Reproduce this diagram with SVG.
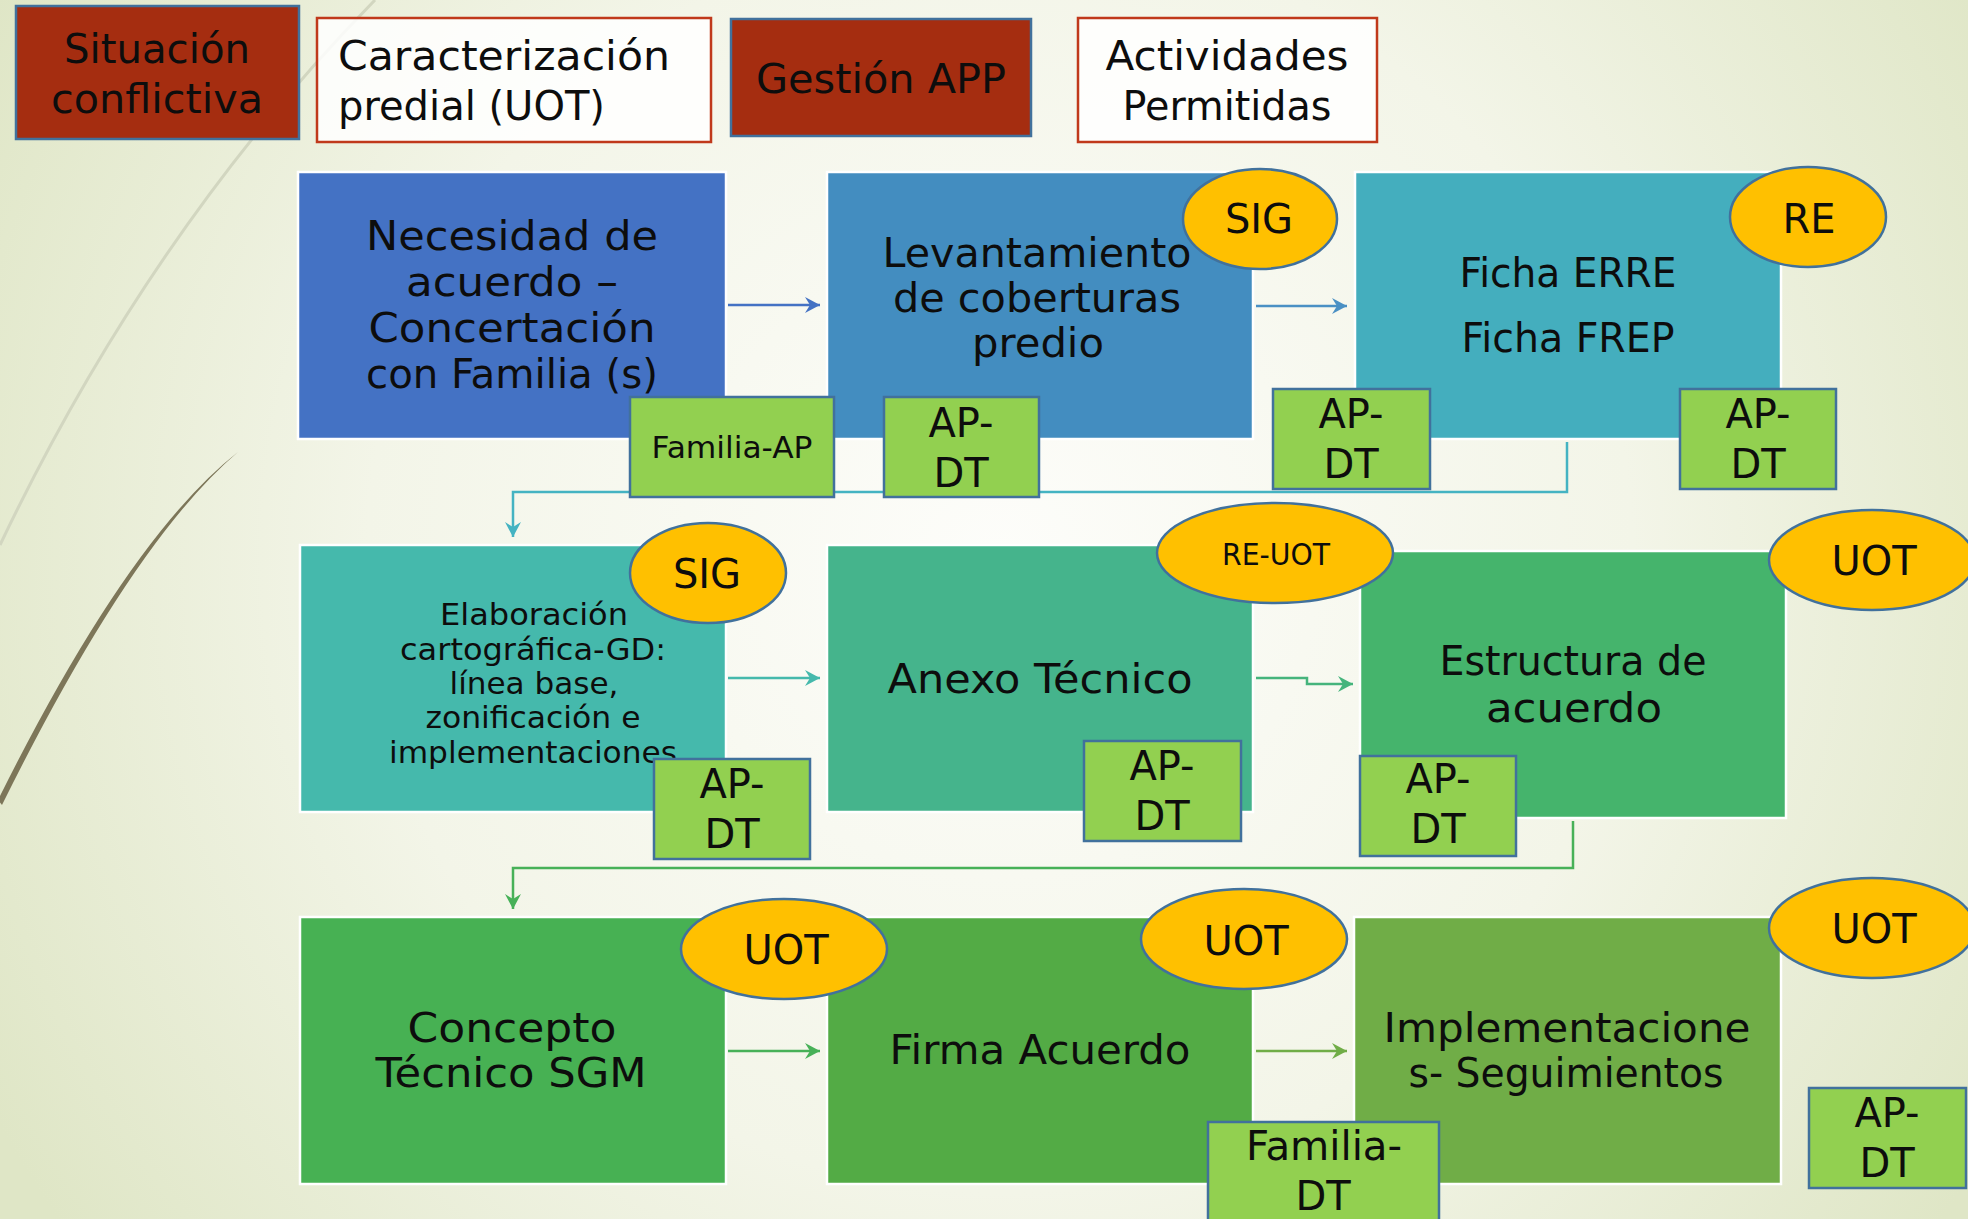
<svg xmlns="http://www.w3.org/2000/svg" width="1968" height="1219" viewBox="0 0 1968 1219">
<defs>
<radialGradient id="bg" cx="1000" cy="560" r="1150" gradientUnits="userSpaceOnUse">
<stop offset="0" stop-color="#FDFDFA"/>
<stop offset="0.55" stop-color="#F3F5E8"/>
<stop offset="1" stop-color="#DFE6C6"/>
</radialGradient>
<marker id="ah-blue" markerUnits="userSpaceOnUse" markerWidth="16" markerHeight="16" refX="15" refY="8" orient="auto"><path d="M0,0 L15,8 L0,16 L5,8 Z" fill="#4472C4"/></marker>
<marker id="ah-blue2" markerUnits="userSpaceOnUse" markerWidth="16" markerHeight="16" refX="15" refY="8" orient="auto"><path d="M0,0 L15,8 L0,16 L5,8 Z" fill="#4A90C4"/></marker>
<marker id="ah-teal" markerUnits="userSpaceOnUse" markerWidth="16" markerHeight="16" refX="15" refY="8" orient="auto"><path d="M0,0 L15,8 L0,16 L5,8 Z" fill="#44B3C2"/></marker>
<marker id="ah-teal2" markerUnits="userSpaceOnUse" markerWidth="16" markerHeight="16" refX="15" refY="8" orient="auto"><path d="M0,0 L15,8 L0,16 L5,8 Z" fill="#45B9AC"/></marker>
<marker id="ah-green1" markerUnits="userSpaceOnUse" markerWidth="16" markerHeight="16" refX="15" refY="8" orient="auto"><path d="M0,0 L15,8 L0,16 L5,8 Z" fill="#45B47C"/></marker>
<marker id="ah-green2" markerUnits="userSpaceOnUse" markerWidth="16" markerHeight="16" refX="15" refY="8" orient="auto"><path d="M0,0 L15,8 L0,16 L5,8 Z" fill="#47B158"/></marker>
<marker id="ah-green3" markerUnits="userSpaceOnUse" markerWidth="16" markerHeight="16" refX="15" refY="8" orient="auto"><path d="M0,0 L15,8 L0,16 L5,8 Z" fill="#70AD47"/></marker>
</defs>
<style>
text { font-family: "DejaVu Sans", "Noto Sans", sans-serif; fill: #0D0D0D; }
.big { font-size: 41px; }
.lbl { font-size: 40px; }
.mid { font-size: 30px; }
.c { text-anchor: middle; }
.redbox { fill: #A52D10; stroke: #41719C; stroke-width: 2.5; }
.whitebox { fill: #FFFFFF; fill-opacity: 0.85; stroke: #C0391B; stroke-width: 2.5; }
.main { stroke: #FFFFFF; stroke-width: 2.5; }
.badge { fill: #FFC000; stroke: #41719C; stroke-width: 2.5; }
.tag { fill: #92D050; stroke: #41719C; stroke-width: 2.5; }
.conn { fill: none; stroke-width: 2.5; }
</style>
<rect x="0" y="0" width="1968" height="1219" fill="url(#bg)"/>
<g id="decor">
<path d="M375,0 Q150,230 0,545" fill="none" stroke="#D2D6C0" stroke-width="3"/>
<path d="M238,452 Q128,538 -2,800 L2,805 Q132,542 238,452 Z" fill="#7D7659"/>
</g>

<g id="legend">
<g id="leg-situacion"><rect class="redbox" x="16" y="6" width="283" height="133"/><text class="big c" x="157" y="63" textLength="186" lengthAdjust="spacingAndGlyphs">Situación</text><text class="big c" x="157" y="113" textLength="212" lengthAdjust="spacingAndGlyphs">conflictiva</text></g>
<g id="leg-caracterizacion"><rect class="whitebox" x="317" y="18" width="394" height="124"/><text class="big" x="338" y="70" textLength="332" lengthAdjust="spacingAndGlyphs">Caracterización</text><text class="big" x="338" y="120" textLength="267" lengthAdjust="spacingAndGlyphs">predial (UOT)</text></g>
<g id="leg-gestion"><rect class="redbox" x="731" y="19" width="300" height="117"/><text class="big c" x="881" y="93" textLength="250" lengthAdjust="spacingAndGlyphs">Gestión APP</text></g>
<g id="leg-actividades"><rect class="whitebox" x="1078" y="18" width="299" height="124"/><text class="big c" x="1227" y="70" textLength="243" lengthAdjust="spacingAndGlyphs">Actividades</text><text class="big c" x="1227" y="120" textLength="209" lengthAdjust="spacingAndGlyphs">Permitidas</text></g>
</g>

<g id="connectors">
<line class="conn" x1="728" y1="305" x2="820" y2="305" stroke="#4472C4" marker-end="url(#ah-blue)"/>
<line class="conn" x1="1256" y1="306" x2="1347" y2="306" stroke="#4A90C4" marker-end="url(#ah-blue2)"/>
<polyline class="conn" points="1567,442 1567,492 513,492 513,537" stroke="#44B3C2" marker-end="url(#ah-teal)"/>
<line class="conn" x1="728" y1="678" x2="820" y2="678" stroke="#45B9AC" marker-end="url(#ah-teal2)"/>
<polyline class="conn" points="1256,678 1307,678 1307,684 1353,684" stroke="#45B47C" marker-end="url(#ah-green1)"/>
<polyline class="conn" points="1573,821 1573,868 513,868 513,909" stroke="#47B158" marker-end="url(#ah-green2)"/>
<line class="conn" x1="728" y1="1051" x2="820" y2="1051" stroke="#47B158" marker-end="url(#ah-green2)"/>
<line class="conn" x1="1256" y1="1051" x2="1347" y2="1051" stroke="#70AD47" marker-end="url(#ah-green3)"/>
</g>

<g id="n-necesidad"><rect class="main" x="298" y="172" width="428" height="267" fill="#4472C4"/>
<text class="big c" x="512" y="250" textLength="292" lengthAdjust="spacingAndGlyphs">Necesidad de</text><text class="big c" x="512" y="296" textLength="212" lengthAdjust="spacingAndGlyphs">acuerdo –</text><text class="big c" x="512" y="342" textLength="287" lengthAdjust="spacingAndGlyphs">Concertación</text><text class="big c" x="512" y="388" textLength="292" lengthAdjust="spacingAndGlyphs">con Familia (s)</text></g>
<g id="n-levantamiento"><rect class="main" x="827" y="172" width="426" height="267" fill="#438DC0"/>
<text class="big c" x="1037" y="267" textLength="309" lengthAdjust="spacingAndGlyphs">Levantamiento</text><text class="big c" x="1037" y="312" textLength="288" lengthAdjust="spacingAndGlyphs">de coberturas</text><text class="big c" x="1038" y="357" textLength="132" lengthAdjust="spacingAndGlyphs">predio</text></g>
<g id="n-ficha"><rect class="main" x="1355" y="172" width="426" height="267" fill="#44AEBE"/>
<text class="big c" x="1568" y="287" textLength="217" lengthAdjust="spacingAndGlyphs">Ficha ERRE</text><text class="big c" x="1568" y="352" textLength="213" lengthAdjust="spacingAndGlyphs">Ficha FREP</text></g>
<g id="n-elaboracion"><rect class="main" x="300" y="545" width="426" height="267" fill="#45B9AC"/>
<text class="mid c" x="534" y="625" textLength="188" lengthAdjust="spacingAndGlyphs">Elaboración</text><text class="mid c" x="533" y="660" textLength="266" lengthAdjust="spacingAndGlyphs">cartográfica-GD:</text><text class="mid c" x="534" y="694" textLength="169" lengthAdjust="spacingAndGlyphs">línea base,</text><text class="mid c" x="533" y="728" textLength="215" lengthAdjust="spacingAndGlyphs">zonificación e</text><text class="mid c" x="533" y="763" textLength="288" lengthAdjust="spacingAndGlyphs">implementaciones</text></g>
<g id="n-anexo"><rect class="main" x="827" y="545" width="426" height="267" fill="#45B48C"/>
<text class="big c" x="1040" y="693" textLength="305" lengthAdjust="spacingAndGlyphs">Anexo Técnico</text></g>
<g id="n-estructura"><rect class="main" x="1360" y="551" width="426" height="267" fill="#45B46C"/>
<text class="big c" x="1573" y="675" textLength="267" lengthAdjust="spacingAndGlyphs">Estructura de</text><text class="big c" x="1574" y="722" textLength="176" lengthAdjust="spacingAndGlyphs">acuerdo</text></g>
<g id="n-concepto"><rect class="main" x="300" y="917" width="426" height="267" fill="#47B153"/>
<text class="big c" x="512" y="1042" textLength="209" lengthAdjust="spacingAndGlyphs">Concepto</text><text class="big c" x="511" y="1087" textLength="271" lengthAdjust="spacingAndGlyphs">Técnico SGM</text></g>
<g id="n-firma"><rect class="main" x="827" y="917" width="426" height="267" fill="#53AB45"/>
<text class="big c" x="1040" y="1064" textLength="301" lengthAdjust="spacingAndGlyphs">Firma Acuerdo</text></g>
<g id="n-implementaciones"><rect class="main" x="1354" y="917" width="427" height="267" fill="#70AD47"/>
<text class="big c" x="1567" y="1042" textLength="367" lengthAdjust="spacingAndGlyphs">Implementacione</text><text class="big c" x="1566" y="1087" textLength="315" lengthAdjust="spacingAndGlyphs">s- Seguimientos</text></g>

<g id="b-sig1"><ellipse class="badge" cx="1260" cy="219" rx="77" ry="50"/><text class="lbl c" x="1259" y="233">SIG</text></g>
<g id="b-re"><ellipse class="badge" cx="1808" cy="217" rx="78" ry="50"/><text class="lbl c" x="1809" y="233">RE</text></g>
<g id="b-sig2"><ellipse class="badge" cx="708" cy="573" rx="78" ry="50"/><text class="lbl c" x="707" y="588">SIG</text></g>
<g id="b-reuot"><ellipse class="badge" cx="1275" cy="553" rx="118" ry="50"/><text class="mid c" x="1276" y="565" textLength="108" lengthAdjust="spacingAndGlyphs">RE-UOT</text></g>
<g id="b-uot1"><ellipse class="badge" cx="1872" cy="560" rx="103" ry="50"/><text class="lbl c" x="1874" y="575">UOT</text></g>
<g id="b-uot2"><ellipse class="badge" cx="784" cy="949" rx="103" ry="50"/><text class="lbl c" x="786" y="964">UOT</text></g>
<g id="b-uot3"><ellipse class="badge" cx="1244" cy="939" rx="103" ry="50"/><text class="lbl c" x="1246" y="955">UOT</text></g>
<g id="b-uot4"><ellipse class="badge" cx="1872" cy="928" rx="103" ry="50"/><text class="lbl c" x="1874" y="943">UOT</text></g>

<g id="t-familia-ap"><rect class="tag" x="630" y="397" width="204" height="100"/><text class="mid c" x="732" y="458" textLength="161" lengthAdjust="spacingAndGlyphs">Familia-AP</text></g>
<g id="t-apdt1"><rect class="tag" x="884" y="397" width="155" height="100"/><text class="lbl c" x="961" y="437">AP-</text><text class="lbl c" x="961" y="487">DT</text></g>
<g id="t-apdt2"><rect class="tag" x="1273" y="389" width="157" height="100"/><text class="lbl c" x="1351" y="428">AP-</text><text class="lbl c" x="1351" y="478">DT</text></g>
<g id="t-apdt3"><rect class="tag" x="1680" y="389" width="156" height="100"/><text class="lbl c" x="1758" y="428">AP-</text><text class="lbl c" x="1758" y="478">DT</text></g>
<g id="t-apdt4"><rect class="tag" x="654" y="759" width="156" height="100"/><text class="lbl c" x="732" y="798">AP-</text><text class="lbl c" x="732" y="848">DT</text></g>
<g id="t-apdt5"><rect class="tag" x="1084" y="741" width="157" height="100"/><text class="lbl c" x="1162" y="780">AP-</text><text class="lbl c" x="1162" y="830">DT</text></g>
<g id="t-apdt6"><rect class="tag" x="1360" y="756" width="156" height="100"/><text class="lbl c" x="1438" y="793">AP-</text><text class="lbl c" x="1438" y="843">DT</text></g>
<g id="t-familia-dt"><rect class="tag" x="1208" y="1122" width="231" height="100"/><text class="lbl c" x="1324" y="1160" textLength="156" lengthAdjust="spacingAndGlyphs">Familia-</text><text class="lbl c" x="1323" y="1210">DT</text></g>
<g id="t-apdt7"><rect class="tag" x="1809" y="1088" width="157" height="100"/><text class="lbl c" x="1887" y="1127">AP-</text><text class="lbl c" x="1887" y="1177">DT</text></g>
</svg>
